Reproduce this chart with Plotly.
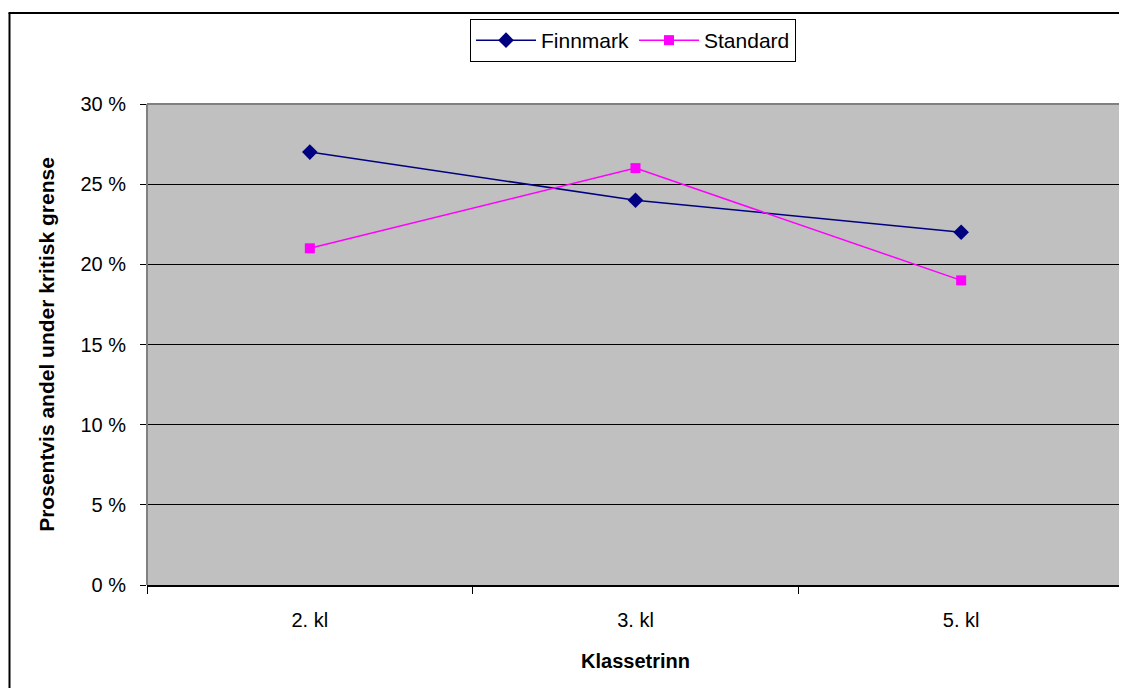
import plotly.graph_objects as go

categories = ["2. kl", "3. kl", "5. kl"]
finnmark = [27, 24, 22]
standard = [21, 26, 19]
y_ticks = [0, 5, 10, 15, 20, 25, 30]
y_tick_labels = ["0 %", "5 %", "10 %", "15 %", "20 %", "25 %", "30 %"]

# page has 8px body margin -> figure placed at (8, 8)
OFF = 8
W, H = 1127 - OFF, 696 - 2 * OFF
L = 147 - OFF
T = 104 - OFF
R = W - (1124 - OFF)
B = H - (585 - OFF)
pw, ph = W - L - R, H - T - B

def px(x):  # page pixel x -> paper
    return (x - OFF - L) / pw

def py(y):  # page pixel y -> paper
    return (H - B - (y - OFF)) / ph

fig = go.Figure()
fig.add_trace(go.Scatter(
    x=categories, y=finnmark, name="Finnmark", mode="lines+markers",
    line=dict(color="#000080", width=1.5),
    marker=dict(symbol="diamond", size=12, color="#000080"),
))
fig.add_trace(go.Scatter(
    x=categories, y=standard, name="Standard", mode="lines+markers",
    line=dict(color="#FF00FF", width=1.5),
    marker=dict(symbol="square", size=10, color="#FF00FF"),
))

font = "Liberation Sans, Arial, sans-serif"
fig.update_layout(
    width=W, height=H,
    margin=dict(l=L, r=R, t=T, b=B),
    paper_bgcolor="white",
    plot_bgcolor="#C0C0C0",
    font=dict(family=font, size=20, color="black"),
    showlegend=True,
    legend=dict(
        orientation="h", x=px(633), xanchor="center", y=py(19), yanchor="top",
        bordercolor="black", borderwidth=1, bgcolor="white",
        font=dict(size=21), tracegroupgap=0, itemwidth=60,
    ),
    xaxis=dict(
        type="category", range=[-0.5, 2.5],
        showgrid=False, showline=True, linecolor="black", linewidth=1.5,
        ticks="outside", tickson="boundaries", ticklen=7, tickcolor="black",
        ticklabelstandoff=16,
        title=dict(text="<b>Klassetrinn</b>", font=dict(size=20), standoff=24),
        zeroline=False,
    ),
    yaxis=dict(
        range=[0, 30], tickvals=y_ticks, ticktext=y_tick_labels,
        showgrid=True, gridcolor="black", gridwidth=1,
        ticks="outside", ticklen=6, tickcolor="black",
        ticklabelstandoff=10,
        showline=False, zeroline=False,
        title=dict(text="<b>Prosentvis andel under kritisk grense</b>", font=dict(size=21), standoff=20),
    ),
)

# plot area border (grey) on top, left, right
border = dict(color="#808080", width=2)
fig.add_shape(type="line", xref="paper", yref="paper", x0=0, x1=1, y0=1, y1=1, line=border, layer="above")
fig.add_shape(type="line", xref="paper", yref="paper", x0=0, x1=0, y0=0, y1=1, line=border, layer="above")
fig.add_shape(type="line", xref="paper", yref="paper", x0=1, x1=1, y0=0, y1=1, line=border, layer="above")

# outer chart border (top and left edges; the others run off the image)
outer = dict(color="black", width=2)
fig.add_shape(type="line", xref="paper", yref="paper",
              x0=px(8.5), x1=px(1140), y0=py(13), y1=py(13), line=outer, layer="above")
fig.add_shape(type="line", xref="paper", yref="paper",
              x0=px(9.5), x1=px(9.5), y0=py(13), y1=py(710), line=outer, layer="above")

fig.write_html("out.html")
